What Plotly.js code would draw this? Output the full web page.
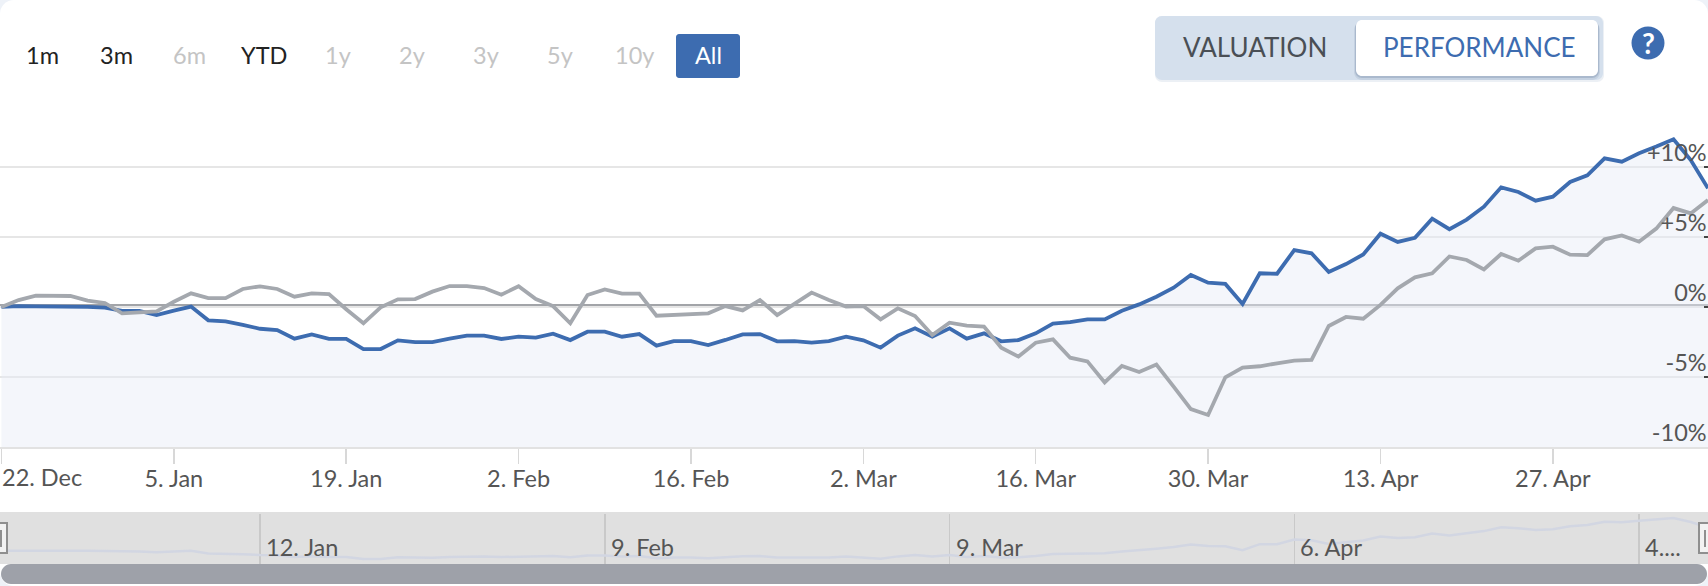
<!DOCTYPE html>
<html>
<head>
<meta charset="utf-8">
<script src="https://cdn.plot.ly/plotly-3.0.1.min.js"></script>
<style>
html,body{margin:0;padding:0;width:1708px;height:586px;overflow:hidden;background:#eef2f8}
#card{width:1708px;height:586px;background:#fff;border-radius:14px;overflow:hidden}
#chart{width:1708px;height:586px}
</style>
</head>
<body>
<div id="card"><div id="chart"></div></div>
<script>
const dates = [
"2014-12-22","2014-12-23","2014-12-24","2014-12-25","2014-12-26",
"2014-12-29","2014-12-30","2014-12-31","2015-01-01","2015-01-02",
"2015-01-05","2015-01-06","2015-01-07","2015-01-08","2015-01-09",
"2015-01-12","2015-01-13","2015-01-14","2015-01-15","2015-01-16",
"2015-01-19","2015-01-20","2015-01-21","2015-01-22","2015-01-23",
"2015-01-26","2015-01-27","2015-01-28","2015-01-29","2015-01-30",
"2015-02-02","2015-02-03","2015-02-04","2015-02-05","2015-02-06",
"2015-02-09","2015-02-10","2015-02-11","2015-02-12","2015-02-13",
"2015-02-16","2015-02-17","2015-02-18","2015-02-19","2015-02-20",
"2015-02-23","2015-02-24","2015-02-25","2015-02-26","2015-02-27",
"2015-03-02","2015-03-03","2015-03-04","2015-03-05","2015-03-06",
"2015-03-09","2015-03-10","2015-03-11","2015-03-12","2015-03-13",
"2015-03-16","2015-03-17","2015-03-18","2015-03-19","2015-03-20",
"2015-03-23","2015-03-24","2015-03-25","2015-03-26","2015-03-27",
"2015-03-30","2015-03-31","2015-04-01","2015-04-02","2015-04-03",
"2015-04-06","2015-04-07","2015-04-08","2015-04-09","2015-04-10",
"2015-04-13","2015-04-14","2015-04-15","2015-04-16","2015-04-17",
"2015-04-20","2015-04-21","2015-04-22","2015-04-23","2015-04-24",
"2015-04-27","2015-04-28","2015-04-29","2015-04-30","2015-05-01",
"2015-05-04","2015-05-05","2015-05-06","2015-05-07","2015-05-08"];

const blueSeries = [
0,.06,.04,.04,.04,0,-.05,-.29,-.29,-.58,
-.27,.02,-.96,-1.03,-1.29,-1.56,-1.65,-2.27,-1.96,-2.29,
-2.29,-3.01,-3.01,-2.39,-2.51,-2.51,-2.27,-2.05,-2.05,-2.29,
-2.13,-2.2,-1.91,-2.37,-1.77,-1.77,-2.13,-1.94,-2.77,-2.44,
-2.44,-2.72,-2.36,-1.96,-1.94,-2.46,-2.44,-2.55,-2.44,-2.13,
-2.39,-2.91,-2.05,-1.53,-2.13,-1.53,-2.27,-1.89,-2.46,-2.37,
-1.89,-1.2,-1.08,-.89,-.89,-.27,.18,.73,1.37,2.28,
1.73,1.64,.21,2.4,2.37,4.06,3.83,2.49,3.06,3.75,
5.23,4.64,4.94,6.3,5.55,6.24,7.16,8.54,8.21,7.59,
7.87,8.92,9.4,10.61,10.37,10.97,11.45,11.97,10.49,8.47];

const graySeries = [
0,.49,.8,.8,.78,.45,.28,-.46,-.39,-.32,
.37,.97,.63,.63,1.28,1.47,1.28,.73,.97,.92,
-.17,-1.17,-.03,.54,.56,1.09,1.49,1.49,1.35,.87,
1.47,.56,.06,-1.17,.85,1.25,.95,.95,-.63,-.58,
-.53,-.46,.06,-.25,.49,-.58,.21,1.02,.49,.02,
.06,-.89,-.1,-.65,-2.01,-1.13,-1.34,-1.41,-2.91,-3.55,
-2.56,-2.32,-3.63,-3.89,-5.39,-4.22,-4.65,-4.12,-5.7,-7.3,
-7.72,-5.03,-4.34,-4.24,-4.03,-3.84,-3.79,-1.36,-.72,-.84,
.14,1.33,2.11,2.4,3.6,3.35,2.68,3.78,3.3,4.18,
4.3,3.73,3.7,4.83,5.11,4.66,5.59,7.06,6.68,7.63];

const floorValue = -10;
const xTickVals = ["2014-12-22","2015-01-05","2015-01-19","2015-02-02","2015-02-16","2015-03-02","2015-03-16","2015-03-30","2015-04-13","2015-04-27"];
const xTickText = ["","5. Jan","19. Jan","2. Feb","16. Feb","2. Mar","16. Mar","30. Mar","13. Apr","27. Apr"];
const firstTickLabel = "22. Dec";
const yTickVals = [-10,-5,0,5,10];
const yTickText = ["-10%","-5%","0%","+5%","+10%"];
const navTickVals = ["2015-01-12","2015-02-09","2015-03-09","2015-04-06","2015-05-04"];
const navTickText = ["12. Jan","9. Feb","9. Mar","6. Apr","4...."];
const rangeLabels = ["1m","3m","6m","YTD","1y","2y","3y","5y","10y","All"];
const rangeEnabled = [true,true,false,true,false,false,false,false,false,true];

const W=1708,H=586;
const BLUE="#3d6cb0",GRAY="#a4a8ae",FONT="Lato, sans-serif";
const px=x=>x/W, py=y=>1-y/H;
function rr(x0,y0,x1,y1,r,fill,layer){
  const f=(x,y)=>px(x)+","+py(y);
  const k=r*0.45;
  const path="M"+f(x0+r,y0)+" L"+f(x1-r,y0)+" C"+f(x1-k,y0)+" "+f(x1,y0+k)+" "+f(x1,y0+r)+
    " L"+f(x1,y1-r)+" C"+f(x1,y1-k)+" "+f(x1-k,y1)+" "+f(x1-r,y1)+
    " L"+f(x0+r,y1)+" C"+f(x0+k,y1)+" "+f(x0,y1-k)+" "+f(x0,y1-r)+
    " L"+f(x0,y0+r)+" C"+f(x0,y0+k)+" "+f(x0+k,y0)+" "+f(x0+r,y0)+" Z";
  return {type:"path",xref:"paper",yref:"paper",path,fillcolor:fill,line:{width:0},layer:layer||"below"};
}
function label(text,x,y,color,size,extra){
  return Object.assign({text,xref:"paper",yref:"paper",x:px(x),y:py(y),xanchor:"center",yanchor:"middle",
    showarrow:false,font:{family:FONT,size:size,color:color}},extra||{});
}
function box(x0,y0,x1,y1,fill,border){
  return {type:"rect",xref:"paper",yref:"paper",x0:px(x0),x1:px(x1),y0:py(y1),y1:py(y0),fillcolor:fill,
    line:border?{color:border,width:2}:{width:0},layer:"above"};
}

const traces=[
 {x:dates,y:dates.map(()=>floorValue),mode:"lines",line:{width:0},hoverinfo:"skip",showlegend:false,xaxis:"x",yaxis:"y"},
 {x:dates,y:blueSeries,mode:"lines",line:{color:BLUE,width:3.8},fill:"tonexty",fillcolor:"rgba(230,235,246,0.45)",hoverinfo:"skip",showlegend:false,xaxis:"x",yaxis:"y"},
 {x:dates,y:graySeries,mode:"lines",line:{color:GRAY,width:3.8},hoverinfo:"skip",showlegend:false,xaxis:"x",yaxis:"y"},
 {x:dates,y:blueSeries,mode:"lines",line:{color:"#d2d6e2",width:2.5},hoverinfo:"skip",showlegend:false,xaxis:"x2",yaxis:"y2"}
];

const breaks=[{bounds:["sat","mon"]}];
const xRange=["2014-12-19 22:00","2015-05-08 00:00"];

const shapes=[
 {type:"rect",xref:"paper",yref:"paper",x0:0,x1:1,y0:py(564),y1:py(512),fillcolor:"#e0e0e0",line:{width:0},layer:"below"},
 rr(1,564,1707,584,10,"#9ea1a9","above"),
 box(-3,523,7,553,"#f2f2f2","#8f8f8f"),
 box(0,530,2,547,"#8f8f8f"),
 box(1699,523,1712,553,"#f2f2f2","#8f8f8f"),
 box(1704,530,1706,547,"#8f8f8f"),
 {type:"line",xref:"paper",yref:"y",x0:0,x1:1,y0:.13,y1:.13,line:{color:"#a2a4a8",width:2},layer:"below"},
 rr(676,34,740,78,3,BLUE,"above"),
 rr(1155,16,1604,82,7,"rgba(180,195,215,0.25)","above"),
 rr(1155,16,1603,80,7,"#d5e0ed","above"),
 rr(1354,22,1600,80,8,"rgba(110,130,160,0.16)","above"),
 rr(1355,21,1599,78,7,"rgba(110,130,160,0.30)","above"),
 rr(1356,20,1598,76,6,"#ffffff","above"),
 {type:"circle",xref:"paper",yref:"paper",x0:px(1631.5),x1:px(1664.5),y0:py(59.5),y1:py(26.5),fillcolor:BLUE,line:{width:0},layer:"above"}
];

const rangeX=[42.5,116,189.5,263.6,338,411.8,486,560,634.5,708];
const annotations=[];
rangeLabels.forEach((t,i)=>{
  const color = t==="All" ? "#ffffff" : (rangeEnabled[i] ? "#222222" : "#c4c4c4");
  annotations.push(label(t,rangeX[i],55,color,23.5));
});
annotations.push(label("VALUATION",1255.4,46.5,"#4a4f55",26));
annotations.push(label("PERFORMANCE",1479,46.5,BLUE,26));
annotations.push(label("<b>?</b>",1648,42.5,"#ffffff",28));
annotations.push(Object.assign(label(firstTickLabel,1,477,"#555555",23.5),{x:xTickVals[0],xref:"x",xanchor:"left",xshift:-1}));
navTickVals.forEach((d,i)=>{
  annotations.push({text:navTickText[i],xref:"x2",yref:"paper",x:d,y:py(547),xanchor:"left",yanchor:"middle",xshift:4,
    showarrow:false,font:{family:FONT,size:23.5,color:"#555555"}});
});

const layout={
 width:W,height:H,margin:{l:0,r:0,t:0,b:0},
 paper_bgcolor:"rgba(0,0,0,0)",plot_bgcolor:"rgba(0,0,0,0)",showlegend:false,
 font:{family:FONT,color:"#555555",size:23.5},
 xaxis:{type:"date",range:xRange,rangebreaks:breaks,anchor:"y",tickmode:"array",tickvals:xTickVals,ticktext:xTickText,
   showgrid:false,zeroline:false,showline:true,linecolor:"#e2e2e2",linewidth:2,
   ticks:"outside",ticklen:15,tickcolor:"#d8d8d8",tickwidth:1.5,tickangle:0,ticklabelstandoff:-5,
   tickfont:{family:FONT,size:23.5,color:"#555555"}},
 yaxis:{domain:[1-446.9/H,1-124.9/H],range:[-10,13],side:"right",anchor:"x",tickmode:"array",tickvals:yTickVals,ticktext:yTickText,
   showgrid:true,gridcolor:"#e6e6e6",gridwidth:2,zeroline:false,ticks:"inside",ticklen:4,tickcolor:"#444",tickwidth:1.5,
   ticklabelposition:"inside",ticklabelshift:-14,ticklabelstandoff:-1,
   tickfont:{family:FONT,size:23.5,color:"#555555"}},
 xaxis2:{type:"date",range:xRange,rangebreaks:breaks,anchor:"y2",tickmode:"array",tickvals:navTickVals,ticktext:navTickVals.map(()=>""),
   showgrid:true,gridcolor:"#c9c9c9",gridwidth:1.5,zeroline:false,showline:false,ticks:""},
 yaxis2:{domain:[1-564/H,1-514/H],range:[-4.83,13.4],anchor:"x2",showgrid:false,zeroline:false,showticklabels:false,ticks:""},
 shapes,annotations
};
Plotly.newPlot("chart",traces,layout,{displayModeBar:false,staticPlot:true});
</script>
</body>
</html>
